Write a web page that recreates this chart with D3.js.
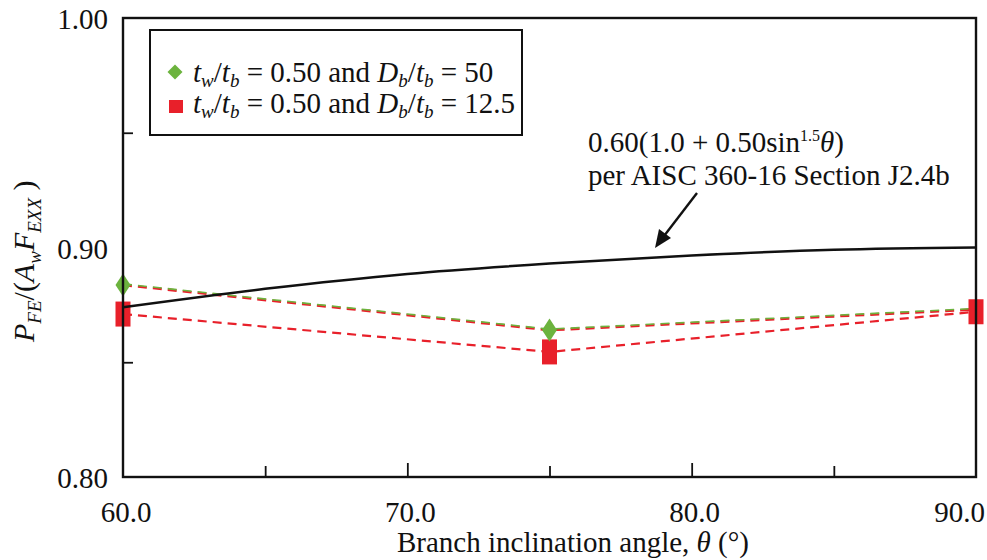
<!DOCTYPE html>
<html>
<head>
<meta charset="utf-8">
<script src="https://cdn.jsdelivr.net/npm/d3@7"></script>
<style>
  body { margin: 0; background: #fff; }
</style>
</head>
<body>
<div id="canvas"></div>
<script>
"use strict"

// data
const angles = [60, 75, 90];
const ratio50 = [0.8837, 0.8640, 0.8730];     // tw/tb = 0.50, Db/tb = 50
const ratio125 = [0.8710, 0.8545, 0.8720];    // tw/tb = 0.50, Db/tb = 12.5
const aiscAngles = [60, 65, 70, 75, 80, 85, 90];
const aiscValues = [0.874, 0.882, 0.8885, 0.893, 0.8965, 0.899, 0.900];
const xLabels = [60, 70, 80, 90];
const xTicks = [65, 70, 75, 80, 85];
const yLabels = [0.80, 0.90, 1.00];
const yTicks = [0.85, 0.95];

const W = 987, H = 560;
const plotLeft = 123, plotRight = 976, plotTop = 18, plotBottom = 477;
const green = "#6cb33e", red = "#e8202a";
const serif = "'Liberation Serif', serif";

let drawing = d3.select("#canvas")
    .append("svg")
    .attr("width", W)
    .attr("height", H)
    .style("font-family", serif);

let x = d3.scaleLinear().domain([60, 90]).range([plotLeft, plotRight]);
let y = d3.scaleLinear().domain([0.80, 1.00]).range([plotBottom, plotTop]);

// ticks pointing inward
drawing.append("g")
    .attr("transform", `translate(0,${plotBottom})`)
    .call(d3.axisBottom(x).tickValues(xTicks).tickSize(-11).tickFormat(""))
    .call(g => g.select(".domain").remove())
    .call(g => g.selectAll(".tick line")
        .attr("stroke", "#111").attr("stroke-width", 1.8)
        .attr("y2", d => d % 10 === 0 ? -14 : -11));

drawing.append("g")
    .attr("transform", `translate(${plotLeft},0)`)
    .call(d3.axisLeft(y).tickValues(yTicks).tickSize(-10).tickFormat(""))
    .call(g => g.select(".domain").remove())
    .call(g => g.selectAll(".tick line").attr("stroke", "#111").attr("stroke-width", 1.8));

// tick labels (the last one is pulled in so it stays on the page)
drawing.selectAll(".xlab").data(xLabels).enter().append("text")
    .attr("x", d => d === 90 ? W - 2 : x(d) + 3)
    .attr("y", 522)
    .attr("text-anchor", d => d === 90 ? "end" : "middle")
    .attr("font-size", 29)
    .attr("fill", "#111")
    .style("font-family", serif)
    .text(d => d.toFixed(1));

drawing.selectAll(".ylab").data(yLabels).enter().append("text")
    .attr("x", 108)
    .attr("y", d => y(d) + 11)
    .attr("text-anchor", "end")
    .attr("font-size", 29)
    .attr("fill", "#111")
    .style("font-family", serif)
    .text(d => d.toFixed(2));

// axis titles
let xt = drawing.append("text")
    .attr("x", 397)
    .attr("y", 552)
    .attr("font-size", 29)
    .attr("fill", "#111")
    .style("font-family", serif);
xt.append("tspan").text("Branch inclination angle, ");
xt.append("tspan").attr("font-style", "italic").text("θ");
xt.append("tspan").text(" (°)");

let yt = drawing.append("text")
    .attr("transform", "translate(34,342) rotate(-90)")
    .attr("font-size", 30)
    .attr("fill", "#111")
    .style("font-family", serif);
yt.append("tspan").attr("font-style", "italic").text("P");
yt.append("tspan").attr("font-style", "italic").attr("font-size", 19).attr("dy", 7).text("FE");
yt.append("tspan").attr("dy", -7).text("/(");
yt.append("tspan").attr("font-style", "italic").text("A");
yt.append("tspan").attr("font-style", "italic").attr("font-size", 19).attr("dy", 7).text("w");
yt.append("tspan").attr("font-style", "italic").attr("dy", -7).text("F");
yt.append("tspan").attr("font-style", "italic").attr("font-size", 19).attr("dy", 7).text("EXX");
yt.append("tspan").attr("dy", -7).text(" )");

// dashed series lines
let line = d3.line().x(d => x(d[0])).y(d => y(d[1]));
let pts50 = angles.map((a, i) => [a, ratio50[i]]);
let pts125 = angles.map((a, i) => [a, ratio125[i]]);

drawing.append("path")
    .attr("d", line(pts125))
    .attr("fill", "none").attr("stroke", red)
    .attr("stroke-width", 2.2).attr("stroke-dasharray", "9,6");

drawing.append("path")
    .attr("d", line(pts50))
    .attr("fill", "none").attr("stroke", red)
    .attr("stroke-width", 2.6).attr("stroke-dasharray", "9,6");
drawing.append("path")
    .attr("d", line(pts50))
    .attr("transform", "translate(0,-1)")
    .attr("fill", "none").attr("stroke", green)
    .attr("stroke-width", 1.6).attr("stroke-dasharray", "9,6");

// markers
function diamond(w, h) {
    return `M0,${-h / 2}L${w / 2},0L0,${h / 2}L${-w / 2},0Z`;
}

drawing.selectAll(".sq").data(pts125).enter().append("rect")
    .attr("x", d => x(d[0]) - 7.5)
    .attr("y", d => y(d[1]) - 12.5)
    .attr("width", 15).attr("height", 25)
    .attr("fill", red);

drawing.selectAll(".dm").data(pts50.slice(0, 2)).enter().append("path")
    .attr("d", diamond(15, 23))
    .attr("transform", d => `translate(${x(d[0])},${y(d[1])})`)
    .attr("fill", green);

// AISC curve
drawing.append("path")
    .attr("d", d3.line().x(d => x(d[0])).y(d => y(d[1])).curve(d3.curveMonotoneX)(
        aiscAngles.map((a, i) => [a, aiscValues[i]])))
    .attr("fill", "none").attr("stroke", "#111").attr("stroke-width", 2.5);

// frame
drawing.append("rect")
    .attr("x", plotLeft).attr("y", plotTop)
    .attr("width", plotRight - plotLeft).attr("height", plotBottom - plotTop)
    .attr("fill", "none").attr("stroke", "#111").attr("stroke-width", 2.4);

// legend
drawing.append("rect")
    .attr("x", 150).attr("y", 30).attr("width", 372).attr("height", 105)
    .attr("fill", "#fff").attr("stroke", "#111").attr("stroke-width", 2);

drawing.append("path")
    .attr("d", diamond(15, 15))
    .attr("transform", "translate(175,72)")
    .attr("fill", green);
drawing.append("rect")
    .attr("x", 169).attr("y", 100).attr("width", 14).attr("height", 13)
    .attr("fill", red);

function legendText(yy, last) {
    let t = drawing.append("text").attr("x", 193).attr("y", yy).attr("font-size", 29)
        .attr("fill", "#111").style("font-family", serif);
    t.append("tspan").attr("font-style", "italic").text("t");
    t.append("tspan").attr("font-style", "italic").attr("font-size", 19).attr("dy", 5).text("w");
    t.append("tspan").attr("dy", -5).text("/");
    t.append("tspan").attr("font-style", "italic").text("t");
    t.append("tspan").attr("font-style", "italic").attr("font-size", 19).attr("dy", 5).text("b");
    t.append("tspan").attr("dy", -5).text(" = 0.50 and ");
    t.append("tspan").attr("font-style", "italic").text("D");
    t.append("tspan").attr("font-style", "italic").attr("font-size", 19).attr("dy", 5).text("b");
    t.append("tspan").attr("dy", -5).text("/");
    t.append("tspan").attr("font-style", "italic").text("t");
    t.append("tspan").attr("font-style", "italic").attr("font-size", 19).attr("dy", 5).text("b");
    t.append("tspan").attr("dy", -5).text(" = " + last);
}
legendText(82, "50");
legendText(113, "12.5");

// annotation
let a1 = drawing.append("text").attr("x", 588).attr("y", 152).attr("font-size", 29)
    .attr("fill", "#111").style("font-family", serif);
a1.append("tspan").text("0.60(1.0 + 0.50sin");
a1.append("tspan").attr("font-size", 16).attr("dy", -11).text("1.5");
a1.append("tspan").attr("dy", 11).attr("font-style", "italic").text("θ");
a1.append("tspan").text(")");

drawing.append("text").attr("x", 588).attr("y", 185).attr("font-size", 29)
    .attr("fill", "#111").style("font-family", serif)
    .text("per AISC 360-16 Section J2.4b");

drawing.append("line")
    .attr("x1", 697).attr("y1", 193).attr("x2", 664).attr("y2", 236)
    .attr("stroke", "#111").attr("stroke-width", 2.4);
drawing.append("path")
    .attr("d", "M655,248L659,229L671,238Z")
    .attr("fill", "#111");
</script>
</body>
</html>
